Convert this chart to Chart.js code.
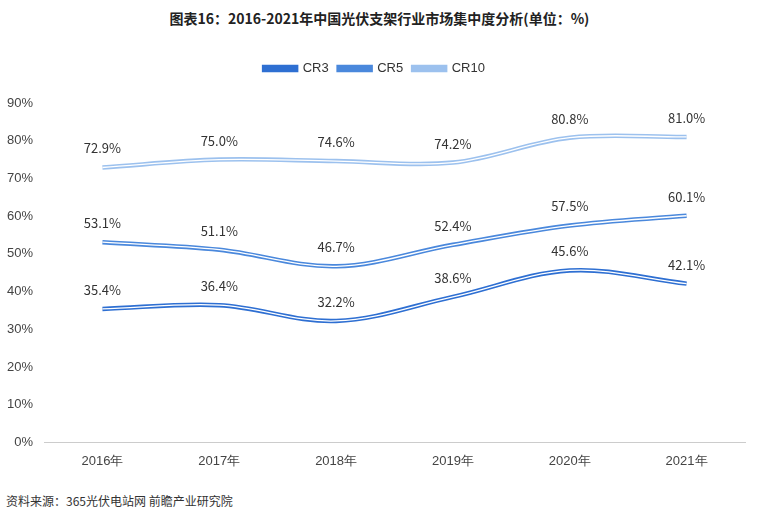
<!DOCTYPE html>
<html><head><meta charset="utf-8">
<script src="https://cdn.jsdelivr.net/npm/chart.js@4"></script>
<style>body{margin:0;background:#fff;font-family:"Noto Sans CJK SC",sans-serif}
#t{position:absolute;left:0;top:8px;width:759px;text-align:center;font-weight:bold;font-size:14px;color:#222}
#s{position:absolute;left:6px;top:492px;font-size:12px;color:#333}
#w{position:absolute;left:0;top:52px;width:759px;height:420px}</style></head>
<body><div id="t">图表16：2016-2021年中国光伏支架行业市场集中度分析(单位：%)</div>
<div id="w"><canvas id="c"></canvas></div>
<div id="s">资料来源：365光伏电站网 前瞻产业研究院</div>
<script>
const categories=["2016年","2017年","2018年","2019年","2020年","2021年"];
const cr3=[35.4,36.4,32.2,38.6,45.6,42.1];
const cr5=[53.1,51.1,46.7,52.4,57.5,60.1];
const cr10=[72.9,75.0,74.6,74.2,80.8,81.0];
const names=["CR3","CR5","CR10"];
const colors=["#2e6fd2","#4a88dc","#9cc1ee"];
const series=[cr3,cr5,cr10];
const ds=[];
series.forEach((d,i)=>{ds.push({label:names[i],data:d,borderColor:colors[i],backgroundColor:"#fff",borderWidth:4.5,pointRadius:0,tension:0.35,order:2});});
series.forEach((d,i)=>{ds.push({label:"_w"+i,data:d,borderColor:"#fff",borderWidth:1.3,pointRadius:0,tension:0.35,order:1});});
const lbl={id:'lbl',afterDatasetsDraw(ch){const c=ch.ctx;c.save();c.font="13px 'Noto Sans CJK SC',sans-serif";c.fillStyle="#333";c.textAlign="center";
for(let i=0;i<3;i++){ch.getDatasetMeta(i).data.forEach((p,j)=>{c.fillText(series[i][j].toFixed(1)+"%",p.x,p.y-19);});}c.restore();}};
const lp={id:'lp',beforeInit(ch){const o=ch.legend.fit;ch.legend.fit=function(){o.bind(ch.legend)();this.height+=18;};}};
new Chart(document.getElementById('c'),{type:'line',data:{labels:categories,datasets:ds},plugins:[lbl,lp],
options:{responsive:true,maintainAspectRatio:false,animation:false,
layout:{padding:{left:4,right:14,top:0,bottom:0}},
plugins:{legend:{labels:{filter:i=>!i.text.startsWith("_"),boxWidth:32,boxHeight:3,color:"#333",font:{size:13}}},tooltip:{enabled:false}},
scales:{x:{offset:true,grid:{display:false},border:{color:"#ccc"},ticks:{color:"#444",font:{size:13}}},
y:{min:0,max:90,ticks:{stepSize:10,callback:v=>v+"%",color:"#444",font:{size:13}},grid:{display:false},border:{display:false}}}}});
</script></body></html>
